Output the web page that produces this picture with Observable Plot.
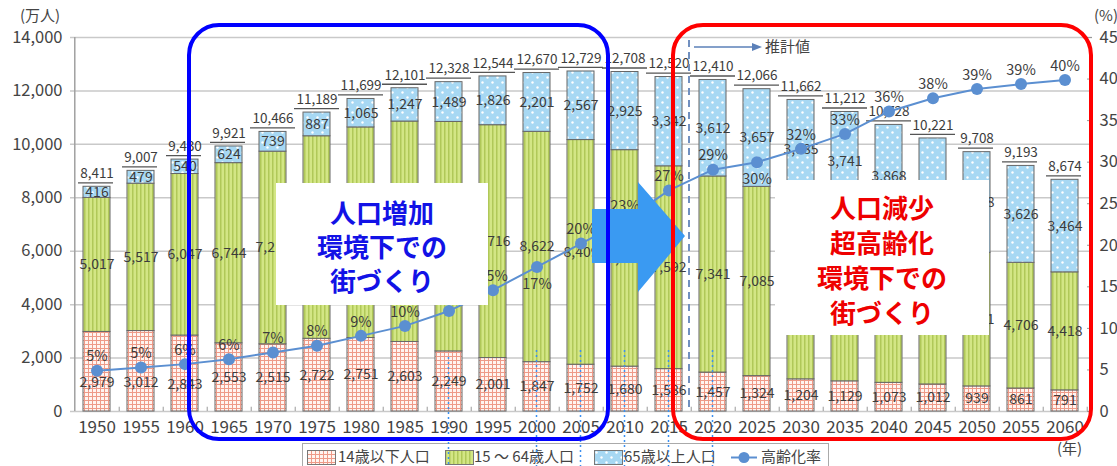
<!DOCTYPE html>
<html><head><meta charset="utf-8">
<script src="https://cdn.jsdelivr.net/npm/d3@7"></script>
<script src="https://cdn.jsdelivr.net/npm/@observablehq/plot@0.6"></script>
<style>
body{margin:0;background:#fff;font-family:"Noto Sans CJK JP","Noto Sans",sans-serif;}
#wrap{position:relative;width:1117px;height:466px;overflow:hidden;}
.note{position:absolute;background:#fff;text-align:center;font-weight:700;font-size:26px;line-height:34px;}
.unit{position:absolute;font-size:15px;color:#444;}
#legend{position:absolute;left:302px;top:443px;width:527px;height:30px;border:1px solid #aaa;background:#fff;box-sizing:border-box;}
.li{position:absolute;top:2px;font-size:15px;color:#444;line-height:20px;white-space:nowrap;}
</style></head><body><div id="wrap"></div>
<script>
const years = [1950,1955,1960,1965,1970,1975,1980,1985,1990,1995,2000,2005,2010,2015,2020,2025,2030,2035,2040,2045,2050,2055,2060];
const age0to14 = [2979,3012,2843,2553,2515,2722,2751,2603,2249,2001,1847,1752,1680,1586,1457,1324,1204,1129,1073,1012,939,861,791];
const age15to64 = [5017,5517,6047,6744,7212,7581,7883,8251,8590,8716,8622,8409,8103,7592,7341,7085,6773,6342,5787,5353,5001,4706,4418];
const age65plus = [416,479,540,624,739,887,1065,1247,1489,1826,2201,2567,2925,3342,3612,3657,3685,3741,3868,3856,3768,3626,3464];
const totals = [8411,9007,9430,9921,10466,11189,11699,12101,12328,12544,12670,12729,12708,12520,12410,12066,11662,11212,10728,10221,9708,9193,8674];
const agingRate = [4.9,5.3,5.7,6.3,7.1,7.9,9.1,10.3,12.1,14.6,17.4,20.2,23.0,26.6,29.1,30.0,31.6,33.4,36.1,37.7,38.8,39.4,39.9];
const seriesNames = ["14歳以下人口","15 ～ 64歳人口","65歳以上人口"];
const rateName = "高齢化率";
const yTicks = [0,2000,4000,6000,8000,10000,12000,14000];
const pctTicks = [0,5,10,15,20,25,30,35,40,45];
const labelBelowYears = [2000,2025];
const childLabelLowYears = [1950,1955,1960];
const dottedYears = [1990,2000,2005,2010,2015,2020];

const K = 14000/45;
const fmt = d3.format(",");
const seriesArrays = [age0to14, age15to64, age65plus];
const rows = [];
years.forEach((yr,i)=>{
  let base = 0;
  seriesArrays.forEach((arr,s)=>{
    rows.push({year:yr, s, group:seriesNames[s], value:arr[i], y1:base, y2:base+arr[i], mid:base+arr[i]/2});
    base += arr[i];
  });
});
const lowRows = rows.filter(d=>d.s===0 && childLabelLowYears.includes(d.year));
const normRows = rows.filter(d=>!(d.s===0 && childLabelLowYears.includes(d.year)));
const tot = years.map((yr,i)=>({year:yr, total:totals[i]}));
const rate = years.map((yr,i)=>({year:yr, rate:agingRate[i], v:agingRate[i]*K}));

function defs(){
  const d = d3.create("svg:defs");
  const p1 = d.append("pattern").attr("id","pChild").attr("patternUnits","userSpaceOnUse").attr("width",4).attr("height",4);
  p1.append("rect").attr("width",4).attr("height",4).attr("fill","#fff4f0");
  p1.append("path").attr("d","M0,0.5H4M0.5,0V4").attr("stroke","#ee9a88").attr("stroke-width",1);
  const p2 = d.append("pattern").attr("id","pWork").attr("patternUnits","userSpaceOnUse").attr("width",4).attr("height",4);
  p2.append("rect").attr("width",4).attr("height",4).attr("fill","#d3e685");
  p2.append("path").attr("d","M0.75,0V4").attr("stroke","#b0c858").attr("stroke-width",1.5);
  const p3 = d.append("pattern").attr("id","pOld").attr("patternUnits","userSpaceOnUse").attr("width",10).attr("height",10);
  p3.append("rect").attr("width",10).attr("height",10).attr("fill","#a7d8f3");
  p3.append("circle").attr("cx",2.5).attr("cy",2.5).attr("r",1.2).attr("fill","#fff");
  p3.append("circle").attr("cx",7.5).attr("cy",7.5).attr("r",1.2).attr("fill","#fff");
  return d.node();
}

const W = 1117, H = 466;
const mL = 70, mR = 25, mT = 37, mB = 55;
const step = (W - mL - mR)/years.length;

const chart = Plot.plot({
  width: W, height: H,
  marginLeft: mL, marginRight: mR, marginTop: mT, marginBottom: mB,
  style: {fontFamily: '"Noto Sans CJK JP","Noto Sans",sans-serif', color: "#444", background: "#fff"},
  x: {type: "band", domain: years, paddingInner: 0.38, paddingOuter: 0.19},
  y: {domain: [0, 14000]},
  color: {domain: seriesNames, range: ["url(#pChild)","url(#pWork)","url(#pOld)"]},
  marks: [
    defs,
    Plot.gridY(yTicks, {stroke: "#c9c9c9", strokeOpacity: 1, strokeWidth: 1.5}),
    Plot.ruleX([years[0]], {x: d=>d, dx: -step/2, y1: 0, y2: 14000, stroke: "#a0a0a0", strokeWidth: 1.5}),
    Plot.ruleX(years, {x: d=>d, dx: step/2, y1: 0, y2: 160, stroke: "#999"}),
    Plot.ruleY(pctTicks.map(p=>p*K), {y: d=>d, insetLeft: W-mL-mR-5, stroke: "#999"}),
    Plot.axisY(yTicks, {tickSize: 0, tickPadding: 8, fontSize: 16.5, tickFormat: d=>fmt(d), label: null}),
    Plot.axisY(pctTicks.map(p=>p*K), {anchor: "right", tickSize: 0, tickPadding: 7, fontSize: 16.5, tickFormat: d=>String(Math.round(d/K)), label: null}),
    Plot.axisX({tickSize: 0, tickPadding: 9, fontSize: 17, label: null, tickFormat: d=>String(d)}),
    Plot.barY(rows, {x: "year", y1: "y1", y2: "y2", fill: "group", stroke: "#666", strokeWidth: 1}),
    Plot.text(normRows, {x: "year", y: "mid", text: d=>fmt(d.value), fontSize: 14, fill: "#3c3c3c"}),
    Plot.text(lowRows, {x: "year", y: "mid", dy: 11, text: d=>fmt(d.value), fontSize: 14, fill: "#3c3c3c"}),
    Plot.text(tot, {x: "year", y: "total", text: d=>fmt(d.total), dy: -13, fontSize: 13.5, fill: "#3c3c3c"}),
    Plot.tickY(tot.filter(d=>d.total<10000), {x: "year", y: "total", dy: -4, insetLeft: -5, insetRight: -3, stroke: "#555", strokeWidth: 1.3}),
    Plot.tickY(tot.filter(d=>d.total>=10000), {x: "year", y: "total", dy: -4, insetLeft: -9, insetRight: -9, stroke: "#555", strokeWidth: 1.3}),
    Plot.line(rate, {x: "year", y: "v", stroke: "#5b8fd1", strokeWidth: 2}),
    Plot.dot(rate, {x: "year", y: "v", r: 6, fill: "#5b8fd1"}),
    Plot.text(rate.filter(d=>!labelBelowYears.includes(d.year)), {x: "year", y: "v", dy: -14, text: d=>Math.round(d.rate)+"%", fontSize: 14.5, fill: "#3c3c3c"}),
    Plot.text(rate.filter(d=>labelBelowYears.includes(d.year)), {x: "year", y: "v", dy: 17, text: d=>Math.round(d.rate)+"%", fontSize: 14.5, fill: "#3c3c3c"})
  ]
});
const wrap = document.getElementById("wrap");
wrap.appendChild(chart);
const xs = chart.scale("x");
const cx = yr => xs.apply(yr) + xs.bandwidth/2;

function addDiv(cls, style, html){
  const d = document.createElement("div");
  d.className = cls; Object.assign(d.style, style); d.innerHTML = html; wrap.appendChild(d); return d;
}
addDiv("unit", {left:"20px", top:"4px"}, "(万人)");
addDiv("unit", {left:"1094px", top:"4px"}, "(%)");
addDiv("unit", {left:"1057px", top:"437px"}, "(年)");

addDiv("note", {left:"276px", top:"183px", width:"212px", height:"122px", paddingTop:"12px", boxSizing:"border-box", color:"#1212e6"}, "人口増加<br>環境下での<br>街づくり");
addDiv("note", {left:"775px", top:"180px", width:"214px", height:"155px", paddingTop:"9px", boxSizing:"border-box", color:"#ee0000", lineHeight:"35px"}, "人口減少<br>超高齢化<br>環境下での<br>街づくり");

// legend
const lg = addDiv("", {}, "");
lg.id = "legend";
const sw = (id) => `<svg width="29" height="15" style="vertical-align:middle"><rect x="0.5" y="0.5" width="28" height="14" fill="url(#${id})" stroke="#777"/></svg>`;
const items = [
  {l:4, html: sw("pChild")}, {l:35, html: seriesNames[0]},
  {l:142, html: sw("pWork")}, {l:171, html: seriesNames[1]},
  {l:291, html: sw("pOld")}, {l:321, html: seriesNames[2]},
  {l:428, html: `<svg width="26" height="15" style="vertical-align:middle"><line x1="0" y1="7.5" x2="26" y2="7.5" stroke="#5b8fd1" stroke-width="2"/><circle cx="13" cy="7.5" r="5.5" fill="#5b8fd1"/></svg>`},
  {l:458, html: rateName}
];
items.forEach(it=>{
  const d = document.createElement("div"); d.className = "li"; d.style.left = it.l+"px"; d.innerHTML = it.html; lg.appendChild(d);
});

// overlay annotations
const ov = d3.select(wrap).append("svg").attr("width", W).attr("height", H)
  .style("position","absolute").style("left",0).style("top",0);
ov.append("polygon").attr("points","592,209 638,209 638,182 685,236 638,292 638,263 592,263").attr("fill","#3a9af2");
ov.append("line").attr("x1",689).attr("x2",689).attr("y1",40).attr("y2",411).attr("stroke","#7190c0").attr("stroke-width",2).attr("stroke-dasharray","7,5");
ov.append("line").attr("x1",694).attr("x2",757).attr("y1",47).attr("y2",47).attr("stroke","#5b80b8").attr("stroke-width",1.5);
ov.append("path").attr("d","M762,47 L752,43 L752,51 Z").attr("fill","#5b80b8");
ov.append("text").attr("x",765).attr("y",47).attr("dy","0.35em").attr("font-size",15).attr("fill","#444").text("推計値");
dottedYears.forEach(yr=>{
  ov.append("line").attr("x1",cx(yr)).attr("x2",cx(yr)).attr("y1", yr===1990?357:350).attr("y2",466)
    .attr("stroke","#3b8ff0").attr("stroke-width",1.5).attr("stroke-dasharray","2,3");
});
ov.append("rect").attr("x",189).attr("y",25).attr("width",419).attr("height",414).attr("rx",30)
  .attr("fill","none").attr("stroke","#0000ff").attr("stroke-width",4);
ov.append("rect").attr("x",673).attr("y",25).attr("width",418).attr("height",414).attr("rx",30)
  .attr("fill","none").attr("stroke","#ff0000").attr("stroke-width",4);
</script></body></html>
